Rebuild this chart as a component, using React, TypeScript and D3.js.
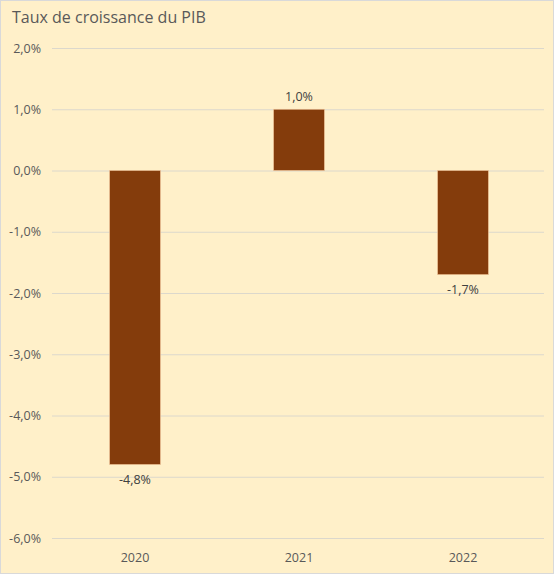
import React, { useEffect, useRef } from "react";
import * as d3 from "d3";

const years = ["2020", "2021", "2022"];
const growth = [-4.8, 1.0, -1.7];
const yTicks = [2, 1, 0, -1, -2, -3, -4, -5, -6];

const W = 554;
const H = 575;
const FONT = "'Open Sans', 'Liberation Sans', sans-serif";

const fmt = (v: number) => v.toFixed(1).replace(".", ",") + "%";

const App: React.FC = () => {
  const svgRef = useRef<SVGSVGElement>(null);

  useEffect(() => {
    const svg = d3.select(svgRef.current);
    svg.selectAll("*").remove();

    svg
      .append("rect")
      .attr("x", 0.5)
      .attr("y", 0.5)
      .attr("width", W - 1)
      .attr("height", H - 2)
      .attr("fill", "#FFF0C9")
      .attr("stroke", "#d9d9d9");

    svg
      .append("text")
      .attr("x", 12)
      .attr("y", 23)
      .attr("font-family", FONT)
      .attr("font-size", 16)
      .attr("fill", "#595959")
      .text("Taux de croissance du PIB");

    const x = d3.scaleBand().domain(years).range([53, 545]).paddingInner(0.69).paddingOuter(0.345);
    const y = d3.scaleLinear().domain([-6, 2]).range([538, 48]);

    // gridlines
    svg
      .append("g")
      .selectAll("line")
      .data(yTicks)
      .enter()
      .append("line")
      .attr("x1", 52)
      .attr("x2", 544)
      .attr("y1", d => y(d) + 0.5)
      .attr("y2", d => y(d) + 0.5)
      .attr("stroke", "#dcd8cc")
      .attr("stroke-width", 1);

    // y labels
    svg
      .append("g")
      .selectAll("text")
      .data(yTicks)
      .enter()
      .append("text")
      .attr("x", 41)
      .attr("y", d => y(d) + 4.5)
      .attr("text-anchor", "end")
      .attr("font-family", FONT)
      .attr("font-size", 12.5)
      .attr("fill", "#595959")
      .text(d => fmt(d));

    const data = years.map((yr, i) => ({ yr, v: growth[i] }));

    svg
      .append("g")
      .selectAll("rect")
      .data(data)
      .enter()
      .append("rect")
      .attr("x", d => x(d.yr) as number)
      .attr("width", x.bandwidth())
      .attr("y", d => y(Math.max(0, d.v)))
      .attr("height", d => Math.abs(y(d.v) - y(0)))
      .attr("fill", "#843C0C")
      .attr("stroke", "#f2c79a")
      .attr("stroke-width", 0.6);

    // data labels
    svg
      .append("g")
      .selectAll("text")
      .data(data)
      .enter()
      .append("text")
      .attr("x", d => (x(d.yr) as number) + x.bandwidth() / 2)
      .attr("y", d => (d.v >= 0 ? y(d.v) - 8 : y(d.v) + 19))
      .attr("text-anchor", "middle")
      .attr("font-family", FONT)
      .attr("font-size", 12.5)
      .attr("fill", "#404040")
      .text(d => fmt(d.v));

    // category labels
    svg
      .append("g")
      .selectAll("text")
      .data(years)
      .enter()
      .append("text")
      .attr("x", d => (x(d) as number) + x.bandwidth() / 2)
      .attr("y", 562)
      .attr("text-anchor", "middle")
      .attr("font-family", FONT)
      .attr("font-size", 12.5)
      .attr("fill", "#595959")
      .text(d => d);
  }, []);

  return (
    <svg
      ref={svgRef}
      width={W}
      height={H}
      style={{ position: "absolute", left: 0, top: 0 }}
    />
  );
};

export default App;
